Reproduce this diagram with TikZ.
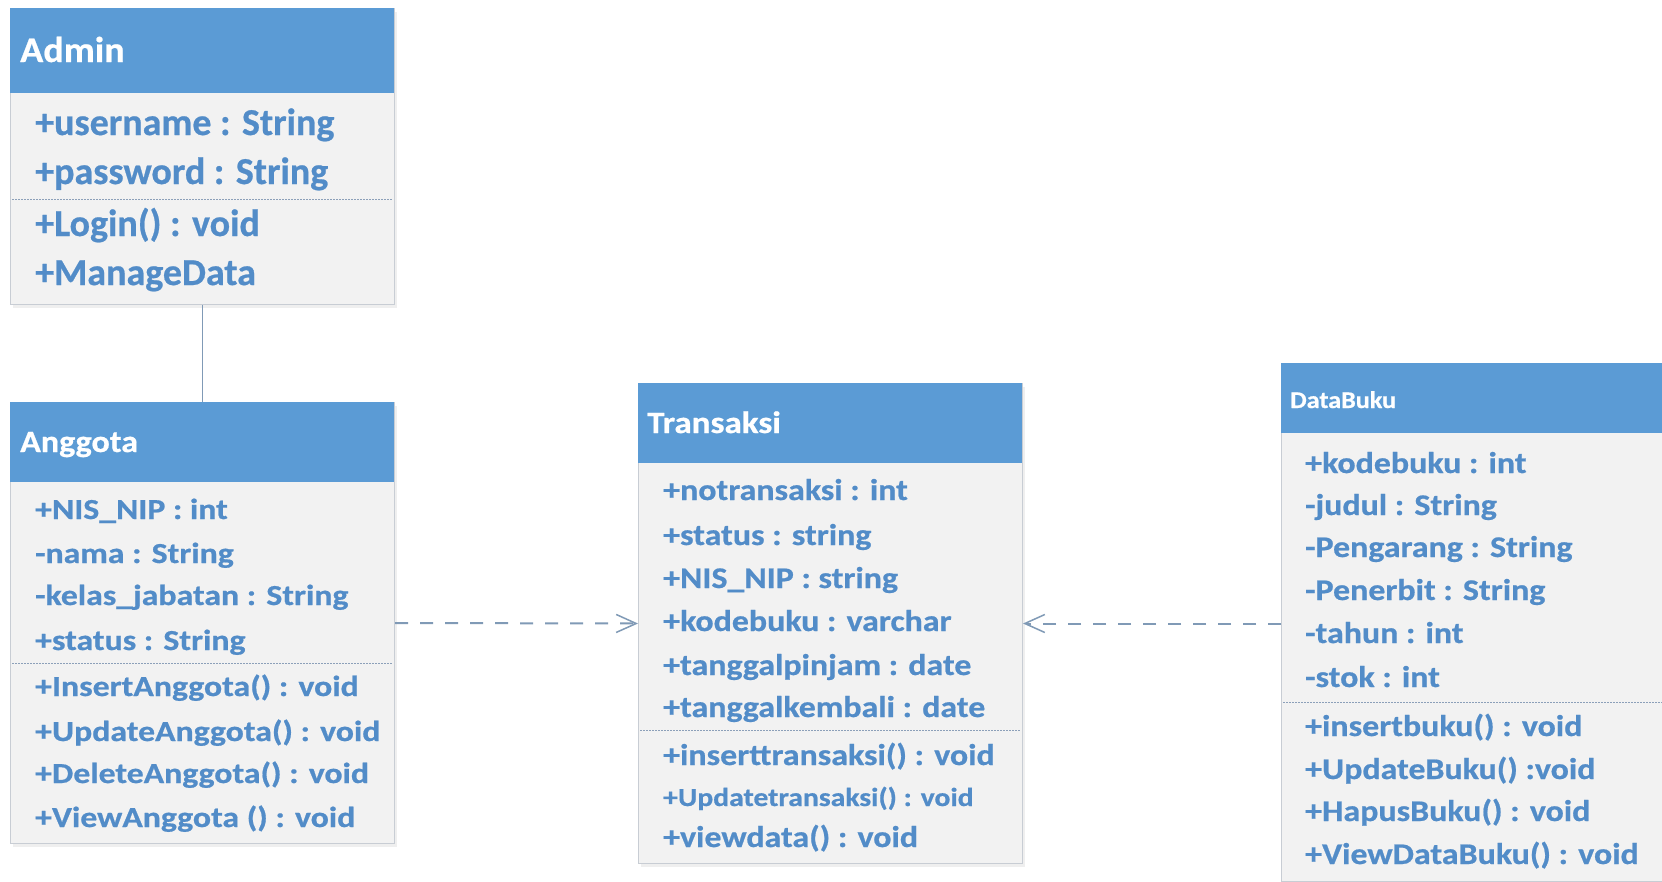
\documentclass[tikz,border=0pt]{standalone}
\usepackage{graphicx}
\usepackage{fontspec}
\setmainfont{Carlito}[BoldFeatures={FakeBold=0.6}]
\usetikzlibrary{arrows.meta,shadows}
\definecolor{hdrblue}{RGB}{91,155,213}
\definecolor{bodygray}{RGB}{242,242,242}
\definecolor{edgegray}{RGB}{200,205,212}
\definecolor{txtblue}{RGB}{82,140,200}
\definecolor{sepgray}{RGB}{140,160,185}
\definecolor{linkgray}{RGB}{128,154,182}
% font size in pt (= px here) and bold
\newcommand{\fs}[1]{\fontsize{#1}{#1}\selectfont\bfseries}
% horizontal stretch of a label
\newcommand{\wide}[2]{\scalebox{#1}[1]{#2}}
\tikzset{
  x=1pt, y=-1pt,
  classbox/.style={draw=edgegray, line width=1pt, fill=bodygray, anchor=north west,
    inner sep=0pt, drop shadow={opacity=0.12, shadow xshift=2pt, shadow yshift=-3pt}},
  sepline/.style={sepgray, line width=0.9pt, dash pattern=on 1.5pt off 1.5pt},
  ttl/.style={anchor=base west, inner sep=0pt, text=white},
  attr/.style={anchor=base west, inner sep=0pt, text=txtblue},
  assoc/.style={draw=linkgray, line width=1.3pt},
  dep/.style={draw=linkgray, line width=2pt, dash pattern=on 13pt off 12pt,
    -{Straight Barb[length=20pt, width=18pt, line width=1.5pt]}},
}
\begin{document}
\begin{tikzpicture}
\useasboundingbox (0,0) rectangle (1662,881);
\clip (0,0) rectangle (1662,881);
\fill[white] (0,0) rectangle (1662,881);

% ---------- Admin ----------
\node[classbox, minimum width=384pt, minimum height=296pt] (admin) at (10,8) {};
\fill[hdrblue] (10,8) rectangle (394,93);
\draw[sepline] (12,199) -- (392,199);
\node[ttl, font=\fs{36}] (adminT) at (20,62) {\wide{1.06}{Admin}};
\node[attr, font=\fs{38}] (a1) at (35,135) {+username : String};
\node[attr, font=\fs{38}] (a2) at (35,184) {+password : String};
\node[attr, font=\fs{38}] (a3) at (35,236) {+Login() : void};
\node[attr, font=\fs{38}] (a4) at (35,285) {+ManageData};

% ---------- Anggota ----------
\node[classbox, minimum width=384pt, minimum height=441pt] (anggota) at (10,402) {};
\fill[hdrblue] (10,402) rectangle (394,482);
\draw[sepline] (12,663) -- (392,663);
\node[ttl, font=\fs{31}] (anggotaT) at (20,452) {\wide{1.1}{Anggota}};
\node[attr, font=\fs{29}] (g1) at (35,519) {\wide{1.165}{+NIS\_NIP : int}};
\node[attr, font=\fs{29}] (g2) at (35,563) {\wide{1.165}{-nama : String}};
\node[attr, font=\fs{29}] (g3) at (35,605) {\wide{1.165}{-kelas\_jabatan : String}};
\node[attr, font=\fs{29}] (g4) at (35,650) {\wide{1.165}{+status : String}};
\node[attr, font=\fs{29}] (g5) at (35,696) {\wide{1.165}{+InsertAnggota() : void}};
\node[attr, font=\fs{29}] (g6) at (35,741) {\wide{1.165}{+UpdateAnggota() : void}};
\node[attr, font=\fs{29}] (g7) at (35,783) {\wide{1.165}{+DeleteAnggota() : void}};
\node[attr, font=\fs{29}] (g8) at (35,827) {\wide{1.165}{+ViewAnggota () : void}};

% ---------- Transaksi ----------
\node[classbox, minimum width=384pt, minimum height=480pt] (transaksi) at (638,383) {};
\fill[hdrblue] (638,383) rectangle (1022,463);
\draw[sepline] (640,730) -- (1020,730);
\node[ttl, font=\fs{31}] (transaksiT) at (647,433) {\wide{1.13}{Transaksi}};
\node[attr, font=\fs{30}] (t1) at (663,500) {\wide{1.13}{+notransaksi : int}};
\node[attr, font=\fs{30}] (t2) at (663,545) {\wide{1.13}{+status : string}};
\node[attr, font=\fs{30}] (t3) at (663,588) {\wide{1.13}{+NIS\_NIP : string}};
\node[attr, font=\fs{30}] (t4) at (663,631) {\wide{1.13}{+kodebuku : varchar}};
\node[attr, font=\fs{30}] (t5) at (663,675) {\wide{1.13}{+tanggalpinjam : date}};
\node[attr, font=\fs{30}] (t6) at (663,717) {\wide{1.13}{+tanggalkembali : date}};
\node[attr, font=\fs{30}] (t7) at (663,765) {\wide{1.13}{+inserttransaksi() : void}};
\node[attr, font=\fs{26}] (t8) at (663,806) {\wide{1.14}{+Updatetransaksi() : void}};
\node[attr, font=\fs{30}] (t9) at (663,847) {\wide{1.13}{+viewdata() : void}};

% ---------- DataBuku ----------
\node[classbox, minimum width=420pt, minimum height=518pt] (databuku) at (1281,363) {};
\fill[hdrblue] (1281,363) rectangle (1701,433);
\draw[sepline] (1283,702) -- (1680,702);
\node[ttl, font=\fs{24}] (databukuT) at (1290,408) {\wide{1.09}{DataBuku}};
\node[attr, font=\fs{30}] (d1) at (1305,473) {\wide{1.13}{+kodebuku : int}};
\node[attr, font=\fs{30}] (d2) at (1305,515) {\wide{1.13}{-judul : String}};
\node[attr, font=\fs{30}] (d3) at (1305,557) {\wide{1.13}{-Pengarang : String}};
\node[attr, font=\fs{30}] (d4) at (1305,600) {\wide{1.13}{-Penerbit : String}};
\node[attr, font=\fs{30}] (d5) at (1305,643) {\wide{1.13}{-tahun : int}};
\node[attr, font=\fs{30}] (d6) at (1305,687) {\wide{1.13}{-stok : int}};
\node[attr, font=\fs{30}] (d7) at (1305,736) {\wide{1.13}{+insertbuku() : void}};
\node[attr, font=\fs{30}] (d8) at (1305,779) {\wide{1.13}{+UpdateBuku() :void}};
\node[attr, font=\fs{30}] (d9) at (1305,821) {\wide{1.13}{+HapusBuku() : void}};
\node[attr, font=\fs{30}] (d10) at (1305,864) {\wide{1.13}{+ViewDataBuku() : void}};

% ---------- Connectors ----------
\draw[assoc] (admin.south) -- (anggota.north);
\draw[dep] (anggota.east) -- (transaksi.west);
\draw[dep] (databuku.west |- transaksi.east) -- (transaksi.east);
\end{tikzpicture}
\end{document}
